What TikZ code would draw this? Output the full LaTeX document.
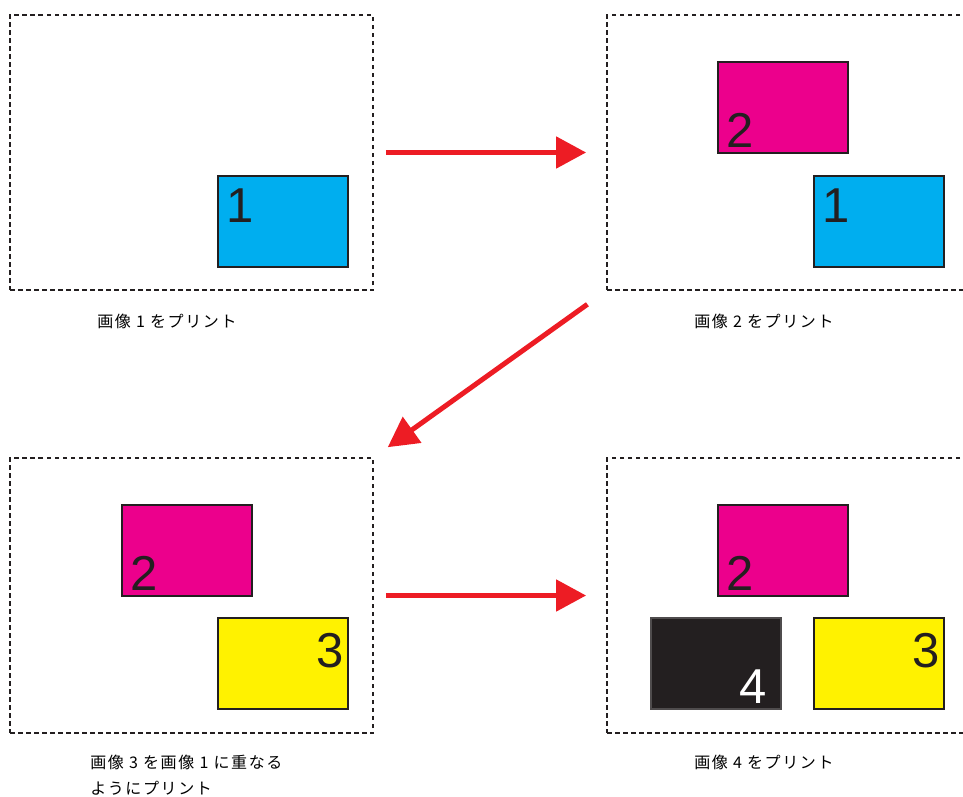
\documentclass[tikz,border=0pt]{standalone}
\usepackage{fontspec}
\setmainfont{Liberation Sans}
\newfontfamily\jpfont[LetterSpace=10]{Noto Sans CJK JP}
\usetikzlibrary{arrows.meta, positioning}
\definecolor{PrintCyan}{HTML}{00AEEF}
\definecolor{PrintMagenta}{HTML}{EC008C}
\definecolor{PrintYellow}{HTML}{FFF200}
\definecolor{PrintBlack}{HTML}{231F20}
\definecolor{PrintRed}{HTML}{ED1C24}
\tikzset{
    % Dashed frame of one print
    sheet/.style={
        rectangle,
        draw=PrintBlack,
        line width=1.8pt,
        dash pattern=on 4.5pt off 3.5pt,
        minimum width=363pt,
        minimum height=275pt,
        inner sep=0pt
    },
    % Coloured image block
    image/.style={
        rectangle,
        draw=PrintBlack,
        line width=2pt,
        minimum width=130pt,
        minimum height=91pt,
        inner sep=0pt
    },
    digit/.style={
        font=\fontsize{49}{49}\selectfont,
        inner sep=0pt,
        text=PrintBlack
    },
    caption/.style={
        font=\jpfont\fontsize{16}{26}\selectfont,
        align=left,
        anchor=north west,
        inner sep=0pt
    },
    % Arrow style
    step arrow/.style={
        -{Triangle[length=30pt,width=31pt]},
        line width=5pt,
        draw=PrintRed
    }
}

\begin{document}
\begin{tikzpicture}[x=1pt, y=-1pt]
    \useasboundingbox (0,0) rectangle (963,796);
    \clip (0,0) rectangle (963,796);

    % Sheets
    \node[sheet] (s1) at (191.5,152.5) {};
    \node[sheet] (s2) at (788.5,152.5) {};
    \node[sheet] (s3) at (191.5,595.5) {};
    \node[sheet] (s4) at (788.5,595.5) {};

    % Print 1
    \node[image, fill=PrintCyan] (c1) at (283,221) {};
    \node[digit, anchor=north west] (d1) at ([xshift=9pt,yshift=-14pt]c1.north west) {1};

    % Print 2
    \node[image, fill=PrintMagenta] (m2) at (783,107.5) {};
    \node[digit, anchor=south west] (d2) at ([xshift=9pt,yshift=6pt]m2.south west) {2};
    \node[image, fill=PrintCyan] (c2) at (879,221) {};
    \node[digit, anchor=north west] (d2b) at ([xshift=9pt,yshift=-14pt]c2.north west) {1};

    % Print 3 over print 1
    \node[image, fill=PrintMagenta] (m3) at (187,550.5) {};
    \node[digit, anchor=south west] (d3) at ([xshift=9pt,yshift=6pt]m3.south west) {2};
    \node[image, fill=PrintYellow] (y3) at (283,663.5) {};
    \node[digit, anchor=north east] (d3b) at ([xshift=-5pt,yshift=-16pt]y3.north east) {3};

    % Print 4
    \node[image, fill=PrintMagenta] (m4) at (783,550.5) {};
    \node[digit, anchor=south west] (d4) at ([xshift=9pt,yshift=6pt]m4.south west) {2};
    \node[image, fill=PrintBlack, draw=PrintBlack!80] (k4) at (716,663.5) {};
    \node[digit, anchor=south east, text=white] (d4b) at ([xshift=-15pt,yshift=6pt]k4.south east) {4};
    \node[image, fill=PrintYellow] (y4) at (879,663.5) {};
    \node[digit, anchor=north east] (d4c) at ([xshift=-5pt,yshift=-16pt]y4.north east) {3};

    % Captions
    \node[caption] (t1) at ([xshift=88pt,yshift=-23pt]s1.south west) {画像 1 をプリント};
    \node[caption] (t2) at ([xshift=88pt,yshift=-23pt]s2.south west) {画像 2 をプリント};
    \node[caption] (t3) at ([xshift=81pt,yshift=-21pt]s3.south west) {画像 3 を画像 1 に重なる\\ようにプリント};
    \node[caption] (t4) at ([xshift=88pt,yshift=-21pt]s4.south west) {画像 4 をプリント};

    % Steps
    \draw[step arrow, shorten <=12pt, shorten >=20pt] (s1.east) -- (s2.west);
    \draw[step arrow, shorten <=23pt, shorten >=17pt] (s2.south west) -- (s3.north east);
    \draw[step arrow, shorten <=12pt, shorten >=20pt] (s3.east) -- (s4.west);
\end{tikzpicture}
\end{document}
